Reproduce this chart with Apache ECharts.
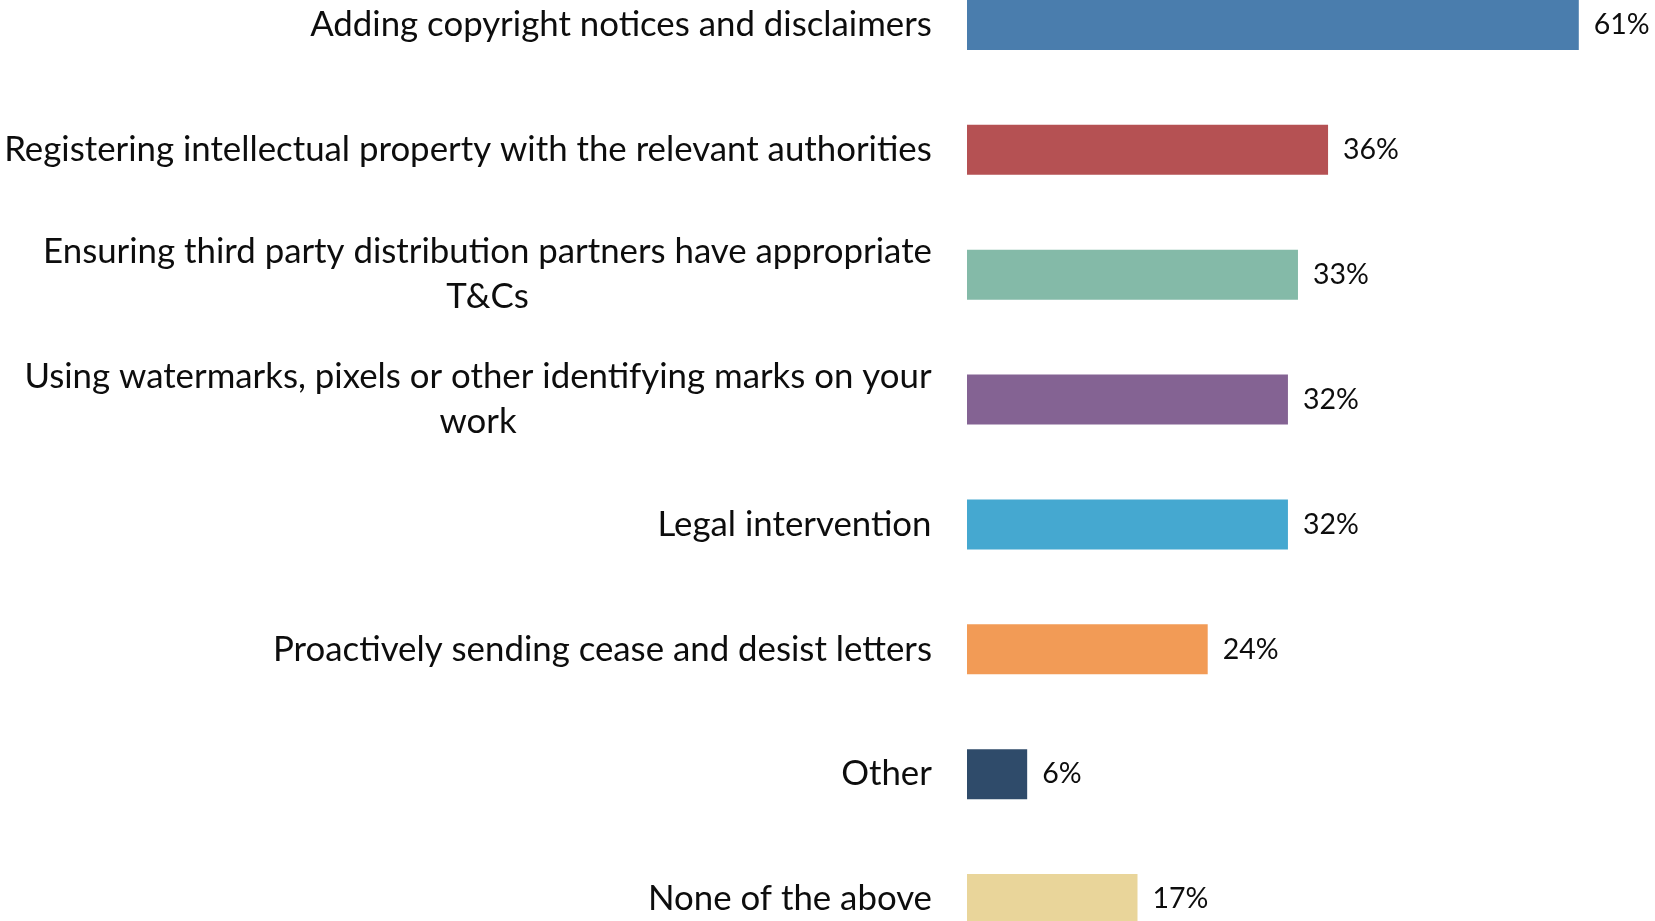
<!DOCTYPE html>
<html>
<head>
<meta charset="utf-8">
<script src="https://cdn.jsdelivr.net/npm/echarts@6/dist/echarts.min.js"></script>
<style>
  html, body { margin: 0; padding: 0; background: #ffffff; }
  #chart { width: 1655px; height: 921px; }
</style>
</head>
<body>
<div id="chart"></div>
<script>
// Measures taken to protect creative work (share of respondents, %)
const categories = [
  'Adding copyright notices and disclaimers',
  'Registering intellectual property with the relevant authorities',
  'Ensuring third party distribution partners have appropriate T&Cs',
  'Using watermarks, pixels or other identifying marks on your work',
  'Legal intervention',
  'Proactively sending cease and desist letters',
  'Other',
  'None of the above'
];
const values = [61, 36, 33, 32, 32, 24, 6, 17];
const barColors = ['#4A7DAD', '#B55153', '#84BAA8', '#846393', '#45A8D0', '#F29B56', '#2F4B6A', '#E9D59A'];

const FONT = 'Lato, "Open Sans", sans-serif';
const LABEL_SIZE = 34.8;
const LABEL_MAX_WIDTH = 940;

// Word-wrap a category name to the label column width; each wrapped block is
// right-aligned against the bars while its lines are centred within the block.
const measureCtx = document.createElement('canvas').getContext('2d');
function wrapLabel(text) {
  const words = text.split(' ');
  const lines = [];
  let line = '';
  words.forEach(w => {
    const trial = line ? line + ' ' + w : w;
    if (line && measureCtx.measureText(trial).width > LABEL_MAX_WIDTH) {
      lines.push(line);
      line = w;
    } else {
      line = trial;
    }
  });
  if (line) lines.push(line);
  const blockWidth = Math.ceil(Math.max(...lines.map(l => measureCtx.measureText(l).width)));
  return { lines, width: blockWidth };
}

const chart = echarts.init(document.getElementById('chart'), null, { renderer: 'canvas' });

function render() {
  measureCtx.font = LABEL_SIZE + 'px ' + FONT;
  const wrapped = categories.map(wrapLabel);
  const rich = {};
  wrapped.forEach((wr, i) => {
    rich['c' + i] = {
      width: wr.width,
      align: 'center',
      fontFamily: FONT,
      fontSize: LABEL_SIZE,
      lineHeight: 45,
      color: '#0d0d0d'
    };
  });

  chart.setOption({
    backgroundColor: '#ffffff',
    animation: false,
    grid: {
      left: 967,
      top: -37.5,
      width: 682,
      height: 999,
      containLabel: false,
      outerBoundsMode: 'none'
    },
    xAxis: {
      type: 'value',
      min: 0,
      max: 68,
      show: false
    },
    yAxis: {
      type: 'category',
      data: categories,
      inverse: true,
      axisLine: { show: false },
      axisTick: { show: false },
      splitLine: { show: false },
      axisLabel: {
        margin: 35,
        color: '#0d0d0d',
        fontFamily: FONT,
        fontSize: LABEL_SIZE,
        lineHeight: 45,
        formatter: (name, idx) => {
          const i = categories.indexOf(name);
          return wrapped[i].lines.map(l => '{c' + i + '|' + l + '}').join('\n');
        },
        rich
      }
    },
    series: [{
      type: 'bar',
      data: values.map((v, i) => ({ value: v, itemStyle: { color: barColors[i] } })),
      barWidth: 50,
      label: {
        show: true,
        position: 'right',
        distance: 15,
        formatter: '{c}%',
        color: '#0d0d0d',
        fontFamily: FONT,
        fontSize: 28.5
      }
    }]
  }, true);
}

render();
if (document.fonts && document.fonts.load) {
  document.fonts.load(LABEL_SIZE + 'px Lato').then(render, render);
}
</script>
</body>
</html>
